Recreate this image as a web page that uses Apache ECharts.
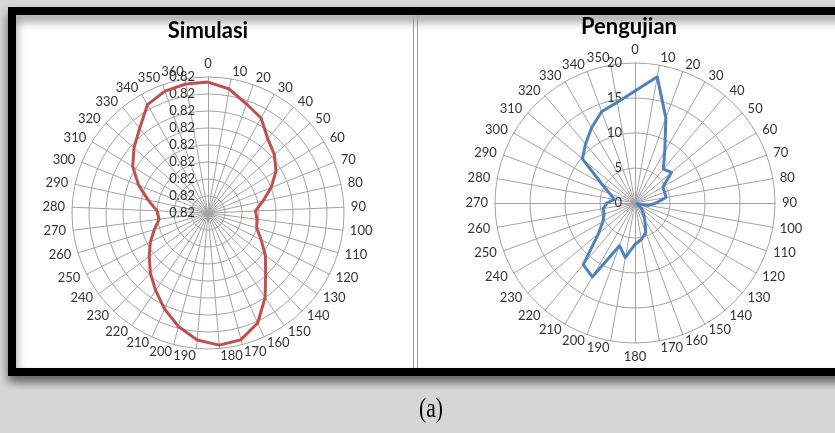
<!DOCTYPE html>
<html>
<head>
<meta charset="utf-8">
<script src="https://cdn.jsdelivr.net/npm/echarts@6/dist/echarts.min.js"></script>
<style>
	html, body { margin: 0; padding: 0; background: #d6d6d6; }
	#chart { width: 835px; height: 433px; }
</style>
</head>
<body>
<div id="chart"></div>
<script>
	/*
	 * Simulasi: 0..360 derajat, nilai gain
	 */
	var simAngles = [0, 10, 20, 30, 40, 50, 60, 70, 80, 90, 100, 110, 120, 130, 140, 150, 160, 170, 180,
		190, 200, 210, 220, 230, 240, 250, 260, 270, 280, 290, 300, 310, 320, 330, 340, 350, 360];
	var simValues = [0.8237, 0.8234, 0.8228, 0.8224, 0.8216, 0.8212, 0.8207, 0.8200, 0.8193, 0.8188,
		0.8189, 0.8190, 0.8195, 0.8202, 0.8209, 0.8220, 0.8231, 0.8237, 0.8238, 0.8235, 0.8229, 0.8222,
		0.8215, 0.8209, 0.8203, 0.8198, 0.8193, 0.8189, 0.8190, 0.8196, 0.8204, 0.8212, 0.8218, 0.8224,
		0.8233, 0.8236, 0.8237];
	var simMin = 0.816, simMax = 0.824;

	/*
	 * Pengujian: 0..350 derajat
	 */
	var testAngles = [0, 10, 20, 30, 40, 50, 60, 70, 80, 90, 100, 110, 120, 130, 140, 150, 160, 170,
		180, 190, 200, 210, 220, 230, 240, 250, 260, 270, 280, 290, 300, 310, 320, 330, 340, 350];
	var testValues = [16.0, 18.3, 12.9, 8.5, 6.3, 6.8, 4.6, 4.5, 4.5, 3.0, 2.0, 0.3, 0.5, 1.2, 1.8, 2.8,
		4.5, 5.3, 5.9, 7.9, 6.5, 12.2, 11.5, 6.8, 5.3, 4.7, 4.6, 4.0, 3.0, 3.8, 5.5, 9.8, 11.0, 12.4,
		13.9, 14.6];
	var testMin = 0, testMax = 20;

	var textColor = "#333";
	var gridColor = "#a3a3a3";

	// radar echarts berlawanan arah jarum jam, dibalik supaya searah jarum jam seperti Excel
	function clockwise(arr) {
		return [arr[0]].concat(arr.slice(1).reverse());
	}

	function indicators(names, min, max) {
		return clockwise(names).map(function(n, i) {
			var ind = { name: String(n), min: min, max: max };
			if (i === 0) ind.axisLabel = { show: true };
			return ind;
		});
	}

	function radarOpt(center, radius, split, names, min, max, fmt) {
		return {
			center: center,
			radius: radius,
			startAngle: 90,
			shape: "circle",
			splitNumber: split,
			nameGap: 7,
			axisName: { color: textColor, fontFamily: "Lato", fontSize: 13 },
			axisLine: { lineStyle: { color: gridColor, width: 1 } },
			splitLine: { lineStyle: { color: gridColor, width: 1 } },
			splitArea: { show: false },
			axisTick: { show: false },
			axisLabel: { show: false, color: textColor, fontFamily: "Lato", fontSize: 13, margin: 13, formatter: fmt },
			indicator: indicators(names, min, max)
		};
	}

	var chart = echarts.init(document.getElementById("chart"));

	chart.setOption({
		animation: false,
		backgroundColor: "#d6d6d6",
		graphic: [{
			type: "rect",
			z: -10,
			shape: { x: 12, y: 11, width: 900, height: 361 },
			style: { fill: "#fff", stroke: "#000", lineWidth: 8, shadowBlur: 10, shadowOffsetY: 6, shadowColor: "rgba(0,0,0,0.45)" }
		}, {
			type: "line",
			z: -5,
			shape: { x1: 413.5, y1: 15, x2: 413.5, y2: 368 },
			style: { stroke: "#999", lineWidth: 1 }
		}, {
			type: "line",
			z: -5,
			shape: { x1: 417.5, y1: 15, x2: 417.5, y2: 368 },
			style: { stroke: "#999", lineWidth: 1 }
		}, {
			type: "text",
			style: { x: 208, y: 31, text: "Simulasi", textAlign: "center", textVerticalAlign: "middle",
				font: "bold 22px Lato", fill: "#000" }
		}, {
			type: "text",
			style: { x: 629, y: 27, text: "Pengujian", textAlign: "center", textVerticalAlign: "middle",
				font: "bold 22px Lato", fill: "#000" }
		}, {
			type: "text",
			x: 431,
			y: 410,
			scaleX: 0.8,
			style: { x: 0, y: 0, text: "(a)", textAlign: "center", textVerticalAlign: "middle",
				font: "27px 'Liberation Serif'", fill: "#000" }
		}],
		radar: [
			radarOpt([208, 213], 136, 8, simAngles, simMin, simMax, function(v) { return v.toFixed(2); }),
			radarOpt([635, 203], 140, 4, testAngles, testMin, testMax, function(v) { return String(v); })
		],
		series: [{
			type: "radar",
			radarIndex: 0,
			symbol: "none",
			silent: true,
			lineStyle: { color: "#c0504d", width: 3 },
			data: [{ value: clockwise(simValues) }]
		}, {
			type: "radar",
			radarIndex: 1,
			symbol: "none",
			silent: true,
			lineStyle: { color: "#4f81bd", width: 3 },
			data: [{ value: clockwise(testValues) }]
		}]
	});
</script>
</body>
</html>
